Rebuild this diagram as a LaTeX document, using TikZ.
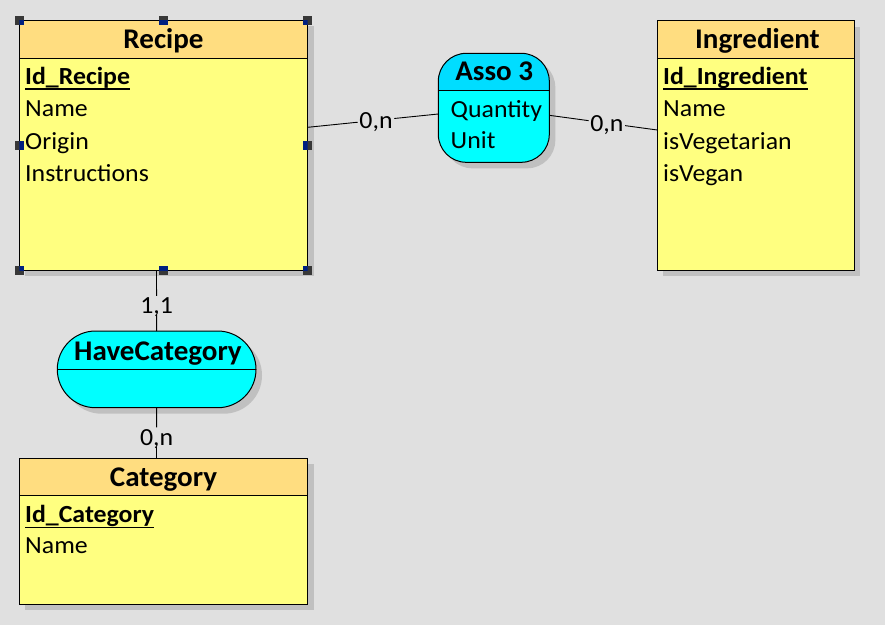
\documentclass[tikz,border=0pt]{standalone}
\usepackage{fontspec}
\setmainfont{Carlito}[FakeStretch=1.05]
\newfontfamily\ttlfamily{Carlito}[FakeStretch=1.02]
\usetikzlibrary{shadows,calc}
\definecolor{bgc}{RGB}{224,224,224}
\definecolor{shadowc}{RGB}{192,192,192}
\definecolor{enthead}{RGB}{255,221,128}
\definecolor{entbody}{RGB}{255,255,128}
\definecolor{assohead}{RGB}{0,221,255}
\definecolor{assobody}{RGB}{0,255,255}
\definecolor{hdark}{RGB}{56,56,56}
\definecolor{hnavy}{RGB}{0,32,128}
\newcommand\erbody{\fontsize{24.6}{28}\selectfont}
\newcommand\ertitle{\ttlfamily\fontsize{28.5}{32}\selectfont}
\tikzset{
  shadowed/.style={general shadow={fill=shadowc, shadow xshift=6pt, shadow yshift=-6pt}},
  entity/.style={shadowed, draw=black, line width=1pt, fill=entbody, rectangle, outer sep=0pt, inner sep=0pt, anchor=north west},
  enthd/.style={draw=black, line width=1pt, fill=enthead, rectangle, outer sep=0pt, inner sep=0pt, anchor=north west},
  assobox/.style={shadowed, fill=assobody, rectangle, outer sep=0pt, inner sep=0pt, anchor=north west},
  ttl/.style={anchor=base, inner sep=0pt, font=\ertitle\bfseries},
  attr/.style={anchor=base west, inner sep=0pt, font=\erbody},
  keyattr/.style={attr, font=\erbody\bfseries},
  uline/.style={line width=1.4pt},
  conn/.style={draw=black, line width=0.9pt},
  card/.style={fill=bgc, inner sep=1.5pt, text depth=0pt, font=\erbody},
}
\begin{document}
\begin{tikzpicture}[x=1pt,y=-1pt]
\path[use as bounding box, fill=bgc] (0,0) rectangle (885,625);

% ---------- Recipe ----------
\node[entity, minimum width=288.4pt, minimum height=250pt] (recipe) at (19.3,20) {};
\node[enthd, minimum width=288.4pt, minimum height=38.3pt] (recipeH) at (recipe.north west) {};
\node[ttl] (recipeT) at (163.5,48) {Recipe};
\node[keyattr] (recipeK) at (25,84) {Id\_Recipe};
\draw[uline] ([yshift=-5pt]recipeK.base west) -- ([yshift=-5pt]recipeK.base east);
\node[attr] (recipeA1) at (25,116.5) {Name};
\node[attr] (recipeA2) at (25,149) {Origin};
\node[attr] (recipeA3) at (25,181.5) {Instructions};

% ---------- Ingredient ----------
\node[entity, minimum width=197pt, minimum height=249.3pt] (ingr) at (657.3,20.7) {};
\node[enthd, minimum width=197pt, minimum height=37.6pt] (ingrH) at (ingr.north west) {};
\node[ttl] (ingrT) at (757.5,48) {Ingredient};
\node[keyattr] (ingrK) at (663,84) {Id\_Ingredient};
\draw[uline] ([yshift=-5pt]ingrK.base west) -- ([yshift=-5pt]ingrK.base east);
\node[attr] (ingrA1) at (663,116.5) {Name};
\node[attr] (ingrA2) at (663,149) {isVegetarian};
\node[attr] (ingrA3) at (663,181.5) {isVegan};

% ---------- Category ----------
\node[entity, minimum width=288.4pt, minimum height=146pt] (cat) at (19.3,458.3) {};
\node[enthd, minimum width=288.4pt, minimum height=36.7pt] (catH) at (cat.north west) {};
\node[ttl] (catT) at (163.5,486.7) {Category};
\node[keyattr] (catK) at (25,522.7) {Id\_Category};
\draw[uline] ([yshift=-4.5pt]catK.base west) -- ([yshift=-4.5pt]catK.base east);
\node[attr] (catA1) at (25,553.3) {Name};

% ---------- Asso 3 ----------
\node[assobox, rounded corners=28pt, minimum width=111pt, minimum height=109pt] (asso) at (438.3,53.3) {};
\begin{scope}
  \clip[rounded corners=28pt] (asso.north west) rectangle (asso.south east);
  \fill[assohead] (asso.north west) rectangle ([yshift=-37.4pt]asso.north east);
\end{scope}
\draw[line width=1pt] ([yshift=-37.4pt]asso.north west) -- ([yshift=-37.4pt]asso.north east);
\draw[line width=1pt, rounded corners=28pt] (asso.north west) rectangle (asso.south east);
\node[ttl] (assoT) at (494.2,80) {Asso 3};
\node[attr] (assoA1) at (450.5,117) {Quantity};
\node[attr] (assoA2) at (450.5,148.5) {Unit};

% ---------- HaveCategory ----------
\node[assobox, rounded corners=38.3pt, minimum width=198.7pt, minimum height=76.7pt] (havecat) at (57.3,331) {};
\draw[line width=1pt] (havecat.west) -- (havecat.east);
\draw[line width=1pt, rounded corners=38.3pt] (havecat.north west) rectangle (havecat.south east);
\node[ttl] (havecatT) at (158,360) {HaveCategory};

% ---------- connectors ----------
\coordinate (rA) at ($(recipe.north east)+(0,107.3)$);
\coordinate (aA) at ($(asso.west)+(0,6.2)$);
\coordinate (aB) at ($(asso.east)+(0,7.5)$);
\coordinate (iB) at ($(ingr.north west)+(0,109.3)$);
\coordinate (rC) at ($(recipe.south west)+(137.2,0)$);
\coordinate (cD) at ($(cat.north west)+(137.2,0)$);

\node[card] (l1) at ($(rA)!0.523!(aA)$) {0,n};
\draw[conn] (rA) -- (l1) -- (aA);
\node[card] (l2) at ($(aB)!0.533!(iB)$) {0,n};
\draw[conn] (aB) -- (l2) -- (iB);
\node[card] (l3) at ($(rC)!0.58!(havecat.north)$) {1,1};
\draw[conn] (rC) -- (l3) -- (havecat.north);
\node[card] (l4) at ($(havecat.south)!0.58!(cD)$) {0,n};
\draw[conn] (havecat.south) -- (l4) -- (cD);

% ---------- selection handles on Recipe ----------
\foreach \a in {north west,north,north east,west,east,south west,south,south east}
  \fill[hdark] ([shift={(-4.5,-4.5)}]recipe.\a) rectangle ([shift={(4.5,4.5)}]recipe.\a);
\begin{scope}
  \clip (recipe.north west) rectangle (recipe.south east);
  \foreach \a in {north west,north,north east,west,east,south west,south,south east}
    \fill[hnavy] ([shift={(-4.5,-4.5)}]recipe.\a) rectangle ([shift={(4.5,4.5)}]recipe.\a);
\end{scope}
\end{tikzpicture}
\end{document}
